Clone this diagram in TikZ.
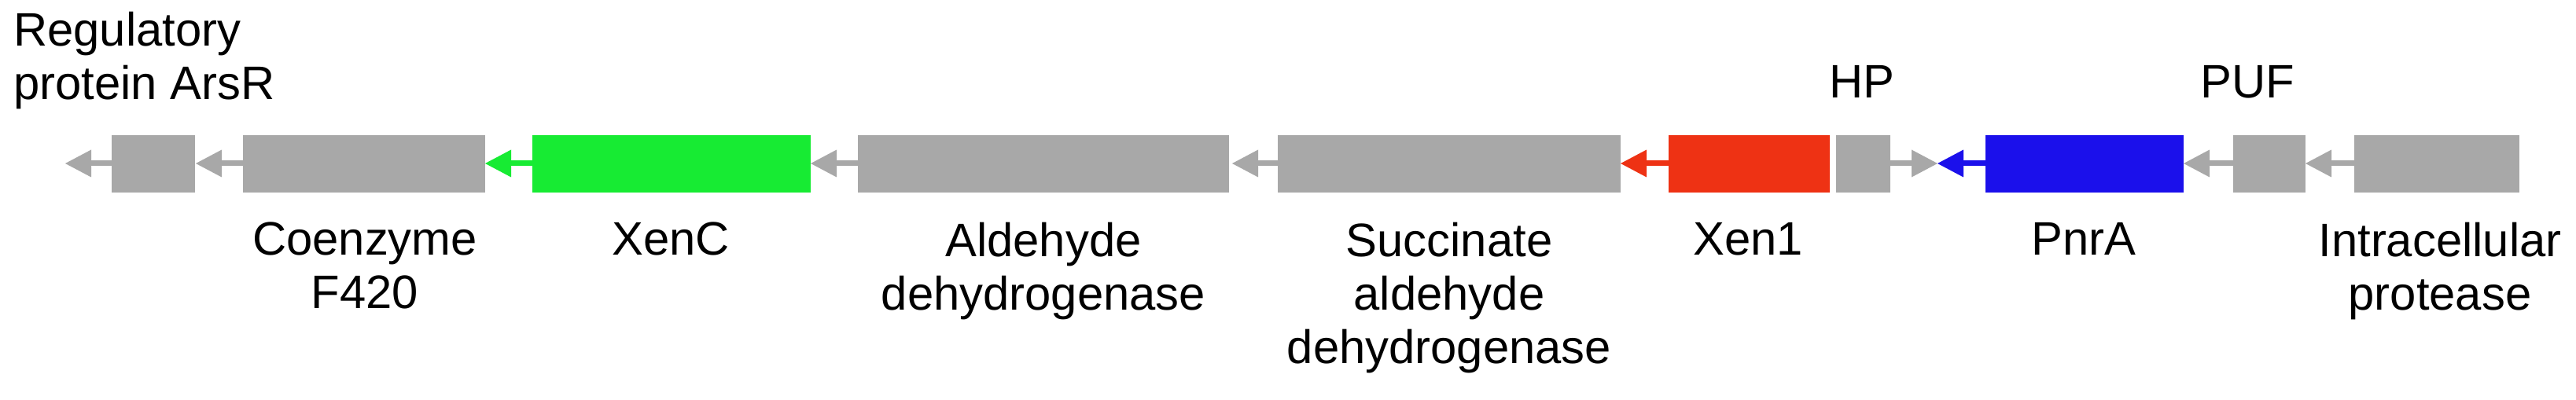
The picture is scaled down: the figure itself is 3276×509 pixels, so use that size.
\documentclass[tikz,border=0pt]{standalone}
\usepackage{fontspec}
\setmainfont{Liberation Sans}
\definecolor{gg}{HTML}{A8A8A8}
\definecolor{gn}{HTML}{17EB33}
\definecolor{rd}{HTML}{EE3214}
\definecolor{bl}{HTML}{1B10EB}
\newcommand{\geneL}[4]{% color, boxL, boxR, tip
  \fill[#1] (#2,172) rectangle (#3,245);
  \fill[#1] (#4+30,204.5) rectangle (#2,211.5);
  \fill[#1] (#4,208) -- (#4+33,190.5) -- (#4+33,225.5) -- cycle;}
\tikzset{lbl/.style={font=\fontsize{60}{68}\selectfont,align=center,inner sep=0pt}}
\begin{document}
\begin{tikzpicture}[x=1bp,y=-1bp]
\useasboundingbox (0,0) rectangle (3276,509);
\geneL{gg}{142}{248}{83}
\geneL{gg}{309}{617}{249}
\geneL{gn}{677}{1031}{617}
\geneL{gg}{1091}{1563}{1031}
\geneL{gg}{1625}{2061}{1567}
\geneL{rd}{2122}{2327}{2061}
% HP rightward
\fill[gg] (2335,172) rectangle (2404,245);
\fill[gg] (2404,204.5) rectangle (2434,211.5);
\fill[gg] (2464,208) -- (2431,190.5) -- (2431,225.5) -- cycle;
\geneL{bl}{2525}{2777}{2464}
\geneL{gg}{2840}{2932}{2777}
\geneL{gg}{2994}{3204}{2932}
\node[lbl,align=left,anchor=north west] (t1) at (17,15) {Regulatory\\protein ArsR};
\node[lbl,anchor=north] (t2) at (464,283) {Coenzyme\\F420};
\node[lbl,anchor=north] (t3) at (853,283) {XenC};
\node[lbl,anchor=north] (t4) at (1327,283) {Aldehyde\\dehydrogenase};
\node[lbl,anchor=north] (t5) at (1843,283) {Succinate\\aldehyde\\dehydrogenase};
\node[lbl,anchor=north] (t6) at (2223,283) {Xen1};
\node[lbl,anchor=north] (t7) at (2368,83) {HP};
\node[lbl,anchor=north] (t8) at (2650,283) {PnrA};
\node[lbl,anchor=north] (t9) at (2858,83) {PUF};
\node[lbl,anchor=north] (t10) at (3103,283) {Intracellular\\protease};
\end{tikzpicture}
\end{document}
